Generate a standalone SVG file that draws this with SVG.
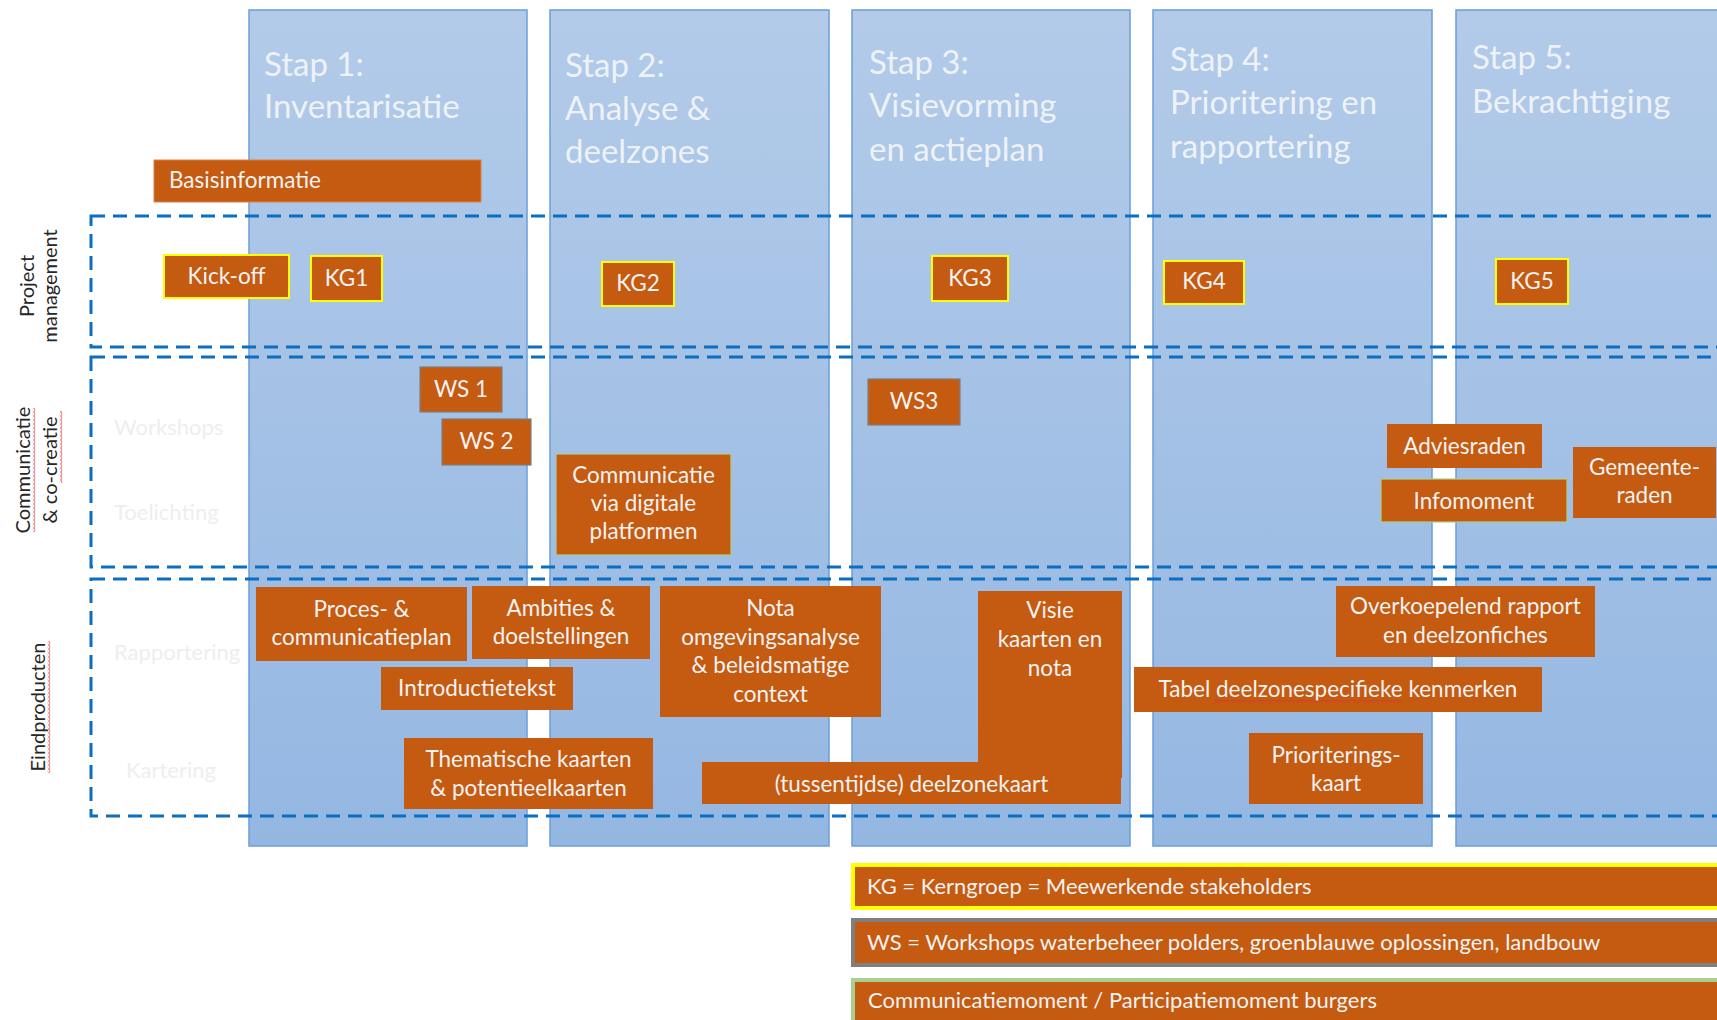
<svg xmlns="http://www.w3.org/2000/svg" width="1717" height="1020" viewBox="0 0 1717 1020">
<style>
.col{fill:url(#colg);stroke:#6a9fd8;stroke-width:1.5}
.title{font-family:Lato,"Liberation Sans",sans-serif;font-size:33px;fill:#eef2f7}
.dash{fill:none;stroke:#0a6fc2;stroke-width:3;stroke-dasharray:14 8}
.n{fill:#c55a11}
.ky{stroke:#ffff00;stroke-width:2}
.kw{stroke:#7f7f7f;stroke-width:1.2}
.kg{stroke:#a9d08e;stroke-width:1.2}
.t{font-family:Lato,"Liberation Sans",sans-serif;font-size:22.5px;fill:#f2f2f2;text-anchor:middle}
.tl{font-family:Lato,"Liberation Sans",sans-serif;font-size:22.5px;fill:#f2f2f2}
.lg{font-family:Lato,"Liberation Sans",sans-serif;font-size:22px;fill:#f2f2f2}
.side{font-family:Lato,"Liberation Sans",sans-serif;font-size:20px;fill:#262626;text-anchor:middle}
.faint{font-family:Lato,"Liberation Sans",sans-serif;font-size:22px;fill:#eeeeee}
</style>
<defs>
<linearGradient id="colg" x1="0" y1="0" x2="0" y2="1">
<stop offset="0" stop-color="#b3cbe9"/>
<stop offset="1" stop-color="#94b7e2"/>
</linearGradient>
<pattern id="sq" width="4" height="3" patternUnits="userSpaceOnUse">
<path d="M0 2.5 L2 0.5 L4 2.5" fill="none" stroke="#e03030" stroke-width="1"/>
</pattern>
</defs>

<g id="columns">
<g id="stap1"><rect class="col" x="249" y="10" width="278" height="836"/>
<text class="title" x="264" y="76">Stap 1:</text><text class="title" x="264" y="118">Inventarisatie</text></g>
<g id="stap2"><rect class="col" x="550" y="10" width="279" height="836"/>
<text class="title" x="565" y="77">Stap 2:</text><text class="title" x="565" y="120">Analyse &amp;</text><text class="title" x="565" y="163">deelzones</text></g>
<g id="stap3"><rect class="col" x="852" y="10" width="278" height="836"/>
<text class="title" x="869" y="74">Stap 3:</text><text class="title" x="869" y="117">Visievorming</text><text class="title" x="869" y="161">en actieplan</text></g>
<g id="stap4"><rect class="col" x="1153" y="10" width="279" height="836"/>
<text class="title" x="1170" y="71">Stap 4:</text><text class="title" x="1170" y="114">Prioritering en</text><text class="title" x="1170" y="158">rapportering</text></g>
<g id="stap5"><rect class="col" x="1456" y="10" width="279" height="836"/>
<text class="title" x="1472" y="69">Stap 5:</text><text class="title" x="1472" y="113">Bekrachtiging</text></g>
</g>

<g id="lanes">
<rect class="dash" x="91" y="216" width="1700" height="131"/>
<rect class="dash" x="91" y="357" width="1700" height="210"/>
<rect class="dash" x="91" y="579" width="1700" height="237"/>
<text class="faint" x="114" y="435">Workshops</text>
<text class="faint" x="114" y="520">Toelichting</text>
<text class="faint" x="114" y="660">Rapportering</text>
<text class="faint" x="126" y="778">Kartering</text>
</g>

<g id="side-labels">
<text class="side" transform="translate(34,286) rotate(-90)">Project</text>
<text class="side" transform="translate(57,286) rotate(-90)">management</text>
<g transform="translate(30,470) rotate(-90)"><text class="side" x="0" y="0">Communicatie</text><rect x="-62" y="2.5" width="124" height="3" fill="url(#sq)"/></g>
<g transform="translate(57,470) rotate(-90)"><text class="side" x="0" y="0">&amp; co-creatie</text><rect x="-13" y="2.5" width="72" height="3" fill="url(#sq)"/></g>
<g transform="translate(45,707) rotate(-90)"><text class="side" x="0" y="0">Eindproducten</text><rect x="-66" y="2.5" width="132" height="3" fill="url(#sq)"/></g>
</g>

<g id="connectors"></g>

<g id="basisinformatie"><rect class="n" x="154" y="160" width="327" height="42" stroke="#d9824a" stroke-width="1"/><text class="tl" x="169" y="188">Basisinformatie</text></g>
<g id="kickoff"><rect class="n ky" x="164" y="255" width="125" height="43"/><text class="t" x="226.5" y="284">Kick-off</text></g>
<g id="kg1"><rect class="n ky" x="311" y="256" width="71" height="45"/><text class="t" x="346.5" y="286">KG1</text></g>
<g id="kg2"><rect class="n ky" x="602" y="262" width="72" height="44"/><text class="t" x="638" y="291">KG2</text></g>
<g id="kg3"><rect class="n ky" x="932" y="256" width="76" height="45"/><text class="t" x="970" y="286">KG3</text></g>
<g id="kg4"><rect class="n ky" x="1164" y="261" width="80" height="43"/><text class="t" x="1204" y="289">KG4</text></g>
<g id="kg5"><rect class="n ky" x="1496" y="259" width="72" height="45"/><text class="t" x="1532" y="289">KG5</text></g>

<g id="ws1"><rect class="n kw" x="420" y="367" width="82" height="45"/><text class="t" x="461" y="397">WS 1</text></g>
<g id="ws2"><rect class="n kw" x="442" y="419" width="89" height="46"/><text class="t" x="486.5" y="449">WS 2</text></g>
<g id="ws3"><rect class="n kw" x="868" y="379" width="92" height="46"/><text class="t" x="914" y="409">WS3</text></g>
<g id="communicatie-digitaal"><rect class="n kg" x="556" y="454" width="175" height="101"/><text class="t" x="643.5" y="483">Communicatie</text><text class="t" x="643.5" y="511">via digitale</text><text class="t" x="643.5" y="539">platformen</text></g>
<g id="adviesraden"><rect class="n" x="1387" y="424" width="155" height="44"/><text class="t" x="1464.5" y="454">Adviesraden</text></g>
<g id="infomoment"><rect class="n kg" x="1381" y="479" width="186" height="43"/><text class="t" x="1474" y="509">Infomoment</text></g>
<g id="gemeenteraden"><rect class="n" x="1573" y="447" width="143" height="71"/><text class="t" x="1644.5" y="475">Gemeente-</text><text class="t" x="1644.5" y="503">raden</text></g>

<g id="proces"><rect class="n" x="256" y="587" width="211" height="74"/><text class="t" x="361.5" y="617">Proces- &amp;</text><text class="t" x="361.5" y="645">communicatieplan</text></g>
<g id="ambities"><rect class="n" x="472" y="586" width="178" height="73"/><text class="t" x="561" y="616">Ambities &amp;</text><text class="t" x="561" y="644">doelstellingen</text></g>
<g id="introductietekst"><rect class="n" x="381" y="667" width="192" height="43"/><text class="t" x="477" y="696">Introductietekst</text></g>
<g id="thematische"><rect class="n" x="404" y="738" width="249" height="71"/><text class="t" x="528.5" y="767">Thematische kaarten</text><text class="t" x="528.5" y="796">&amp; potentieelkaarten</text></g>
<g id="nota"><rect class="n" x="660" y="586" width="221" height="131"/><text class="t" x="770.5" y="616">Nota</text><text class="t" x="770.5" y="645">omgevingsanalyse</text><text class="t" x="770.5" y="673">&amp; beleidsmatige</text><text class="t" x="770.5" y="702">context</text></g>
<g id="visie"><rect class="n" x="978" y="591" width="144" height="187"/><text class="t" x="1050" y="618">Visie</text><text class="t" x="1050" y="647">kaarten en</text><text class="t" x="1050" y="676">nota</text></g>
<g id="deelzonekaart"><rect class="n" x="702" y="762" width="419" height="42"/><text class="t" x="911.5" y="792">(tussentijdse) deelzonekaart</text></g>
<g id="overkoepelend"><rect class="n" x="1336" y="586" width="259" height="71"/><text class="t" x="1465.5" y="614">Overkoepelend rapport</text><text class="t" x="1465.5" y="643">en deelzonfiches</text></g>
<g id="tabel"><rect class="n" x="1134" y="667" width="408" height="45"/><text class="t" x="1338" y="697">Tabel deelzonespecifieke kenmerken</text><rect x="1214" y="700" width="188" height="3" fill="url(#sq)"/></g>
<g id="prioriteringskaart"><rect class="n" x="1249" y="733" width="174" height="71"/><text class="t" x="1336" y="763">Prioriterings-</text><text class="t" x="1336" y="791">kaart</text></g>

<g id="legend-kg"><rect class="n" x="853" y="865" width="900" height="43" stroke="#ffff00" stroke-width="4"/><text class="lg" x="867" y="894">KG = Kerngroep = Meewerkende stakeholders</text></g>
<g id="legend-ws"><rect class="n" x="853" y="920" width="900" height="45" stroke="#7f7f7f" stroke-width="4"/><text class="lg" x="867" y="950">WS = Workshops waterbeheer polders, groenblauwe oplossingen, landbouw</text></g>
<g id="legend-comm"><rect class="n" x="853" y="980" width="900" height="60" stroke="#a9d08e" stroke-width="4"/><text class="lg" x="868" y="1008">Communicatiemoment / Participatiemoment burgers</text></g>
</svg>
